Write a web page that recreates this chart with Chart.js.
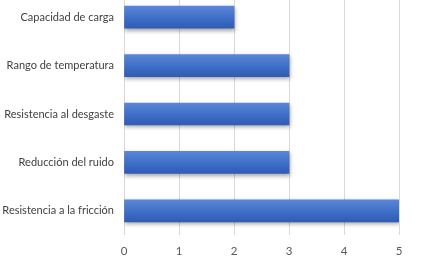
<!DOCTYPE html>
<html>
<head>
<meta charset="utf-8">
<script src="https://cdn.jsdelivr.net/npm/chart.js@4/dist/chart.umd.min.js"></script>
<style>
  html, body { margin: 0; padding: 0; background: #fff; overflow: hidden; }
  #wrap { position: absolute; left: 0; top: -7px; width: 426px; height: 268px; }
</style>
</head>
<body>
<div id="wrap"><canvas id="chart"></canvas></div>
<script>
const categories = [
  "Capacidad de carga",
  "Rango de temperatura",
  "Resistencia al desgaste",
  "Reducción del ruido",
  "Resistencia a la fricción"
];
const values = [2, 3, 3, 3, 5];
const xTicks = [0, 1, 2, 3, 4, 5];

const BAR_H = 22;

function barFill(context) {
  const chart = context.chart;
  const yScale = chart.scales.y;
  if (!yScale || context.dataIndex === undefined) return "#4472C4";
  const cy = yScale.getPixelForValue(context.dataIndex);
  if (!isFinite(cy)) return "#4472C4";
  const g = chart.ctx.createLinearGradient(0, cy - BAR_H / 2, 0, cy + BAR_H / 2);
  g.addColorStop(0, "#5a86d6");
  g.addColorStop(0.5, "#4070c8");
  g.addColorStop(1, "#2f5cb4");
  return g;
}

const shadowPlugin = {
  id: "barShadow",
  beforeDatasetDraw(chart) {
    const ctx = chart.ctx;
    ctx.save();
    ctx.shadowColor = "rgba(0,0,0,0.35)";
    ctx.shadowBlur = 4;
    ctx.shadowOffsetX = 1;
    ctx.shadowOffsetY = 2;
  },
  afterDatasetDraw(chart) {
    chart.ctx.restore();
  }
};

new Chart(document.getElementById("chart"), {
  type: "bar",
  data: {
    labels: categories,
    datasets: [{
      data: values,
      backgroundColor: barFill,
      borderWidth: 0,
      barThickness: BAR_H
    }]
  },
  options: {
    indexAxis: "y",
    responsive: true,
    maintainAspectRatio: false,
    animation: false,
    layout: { padding: { left: 0, right: 27, top: 0, bottom: 0 } },
    plugins: { legend: { display: false }, tooltip: { enabled: false } },
    scales: {
      x: {
        min: 0,
        max: 5,
        afterBuildTicks(scale) { scale.ticks = xTicks.map(v => ({ value: v })); },
        afterFit(scale) { scale.height = 26; scale.paddingLeft = 0; scale.paddingRight = 0; },
        grid: { color: "#d9d9d9", drawTicks: false, lineWidth: 1 },
        border: { display: false },
        ticks: { color: "#595959", padding: 9, font: { family: "Lato", size: 11.5 } }
      },
      y: {
        afterFit(scale) { scale.width = 124; scale.paddingTop = 0; scale.paddingBottom = 0; },
        grid: { display: false, drawTicks: false },
        border: { display: false },
        ticks: { color: "#404040", padding: 10, font: { family: "Lato", size: 11 } }
      }
    }
  },
  plugins: [shadowPlugin]
});
</script>
</body>
</html>
